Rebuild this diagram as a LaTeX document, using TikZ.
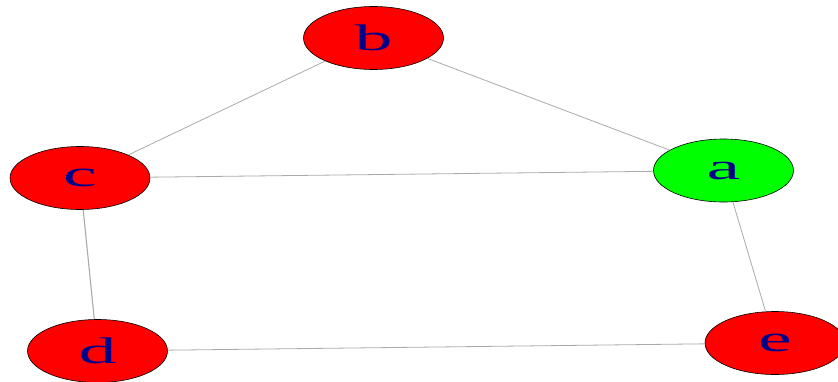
\documentclass[tikz,border=0pt]{standalone}
\usepackage{graphicx}
\usepackage{fontspec}
\setmainfont{Liberation Serif}
\usetikzlibrary{shapes.geometric}
\definecolor{vred}{RGB}{255,0,0}
\definecolor{vgreen}{RGB}{0,255,0}
\definecolor{vtext}{RGB}{0,0,139}
\definecolor{vedge}{RGB}{170,170,170}
\newcommand{\vlabel}[1]{\scalebox{2.05}[1]{#1}}
\tikzset{
  vert/.style={draw=black, ellipse, semithick, inner sep=0pt, minimum width=140pt, minimum height=63pt, text=vtext, font=\fontsize{37}{40}\selectfont},
  redvert/.style={vert, fill=vred},
  greenvert/.style={vert, fill=vgreen},
  link/.style={draw=vedge, line width=0.8pt}
}
\begin{document}
\begin{tikzpicture}[x=1pt,y=-1pt]
        \useasboundingbox (0,0) rectangle (838,381);
        \node[redvert] (b) at (373.5,38) {\vlabel{b}};
        \node[redvert] (c) at (80,178) {\vlabel{c}};
        \node[greenvert] (a) at (723.5,170.5) {\vlabel{a}};
        \node[redvert] (d) at (97.5,351) {\vlabel{d}};
        \node[redvert] (e) at (775,343) {\vlabel{e}};
        \draw[link] (b) -- (c);
        \draw[link] (b) -- (a);
        \draw[link] (c) -- (a);
        \draw[link, line width=1.1pt] (c) -- (d);
        \draw[link] (d) -- (e);
        \draw[link] (a) -- (e);
      \end{tikzpicture}
\end{document}
